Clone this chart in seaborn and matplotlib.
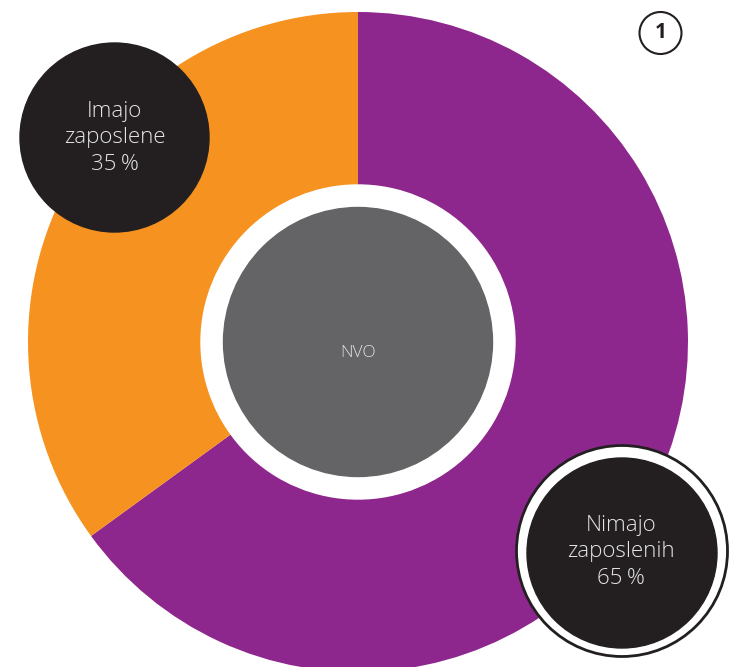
import matplotlib
matplotlib.use("Agg")
import matplotlib.pyplot as plt
from matplotlib.patches import Circle
import seaborn as sns

# ---- data ----
categories = ["Nimajo zaposlenih", "Imajo zaposlene"]
values = [65, 35]
label_lines = [["Nimajo", "zaposlenih", "65\u2009%"], ["Imajo", "zaposlene", "35\u2009%"]]
center_label = "NVO"
badge_label = "1"

colors = ["#8E278D", "#F6921F"]

sns.set_theme(style="white")
plt.rcParams['font.family'] = ['Open Sans', 'DejaVu Sans']

W, H = 736, 667
fig = plt.figure(figsize=(W / 100, H / 100), dpi=100)
ax = fig.add_axes([0, 0, 1, 1])

def Y(y):
    return H - y

cx, cy = 358, Y(342)
ax.pie(values, colors=colors, startangle=90, counterclock=False,
       center=(cx, cy), radius=330, wedgeprops=dict(linewidth=0))

ax.add_patch(Circle((cx, cy), 157, color="white", zorder=3))
ax.add_patch(Circle((cx, cy), 134.5, color="#646466", zorder=4))
ax.text(cx, Y(357), center_label, ha="center", va="baseline", fontsize=12.5,
        color="#e0e0e0", fontweight="light", zorder=5)

# label bubbles
# top-left (Imajo zaposlene)
ax.add_patch(Circle((114.5, Y(137.5)), 94.5, color="#231F20", zorder=6))
ax.text(114.5, Y(138), "\n".join(label_lines[1]), ha="center", va="center",
        fontsize=16, color="#e6e6e6", fontweight="light", linespacing=1.32, zorder=7)

# bottom-right (Nimajo zaposlenih) with ring
ax.add_patch(Circle((622, Y(551)), 105.5, facecolor="white", edgecolor="#231F20",
                    linewidth=2, zorder=6))
ax.add_patch(Circle((622, Y(553)), 95, color="#231F20", zorder=7))
ax.text(621, Y(552), "\n".join(label_lines[0]), ha="center", va="center",
        fontsize=16, color="#e6e6e6", fontweight="light", linespacing=1.32, zorder=8)

# badge
ax.add_patch(Circle((660.5, Y(33)), 21, facecolor="white", edgecolor="#231F20",
                    linewidth=1.5, zorder=6))
ax.text(660.5, Y(33), badge_label, ha="center", va="center", fontsize=15,
        fontweight="bold", color="#231F20", zorder=7)

ax.set_xlim(0, W)
ax.set_ylim(0, H)
ax.set_aspect("equal")
ax.axis("off")

fig.savefig("out.png", dpi=100, facecolor="white")
